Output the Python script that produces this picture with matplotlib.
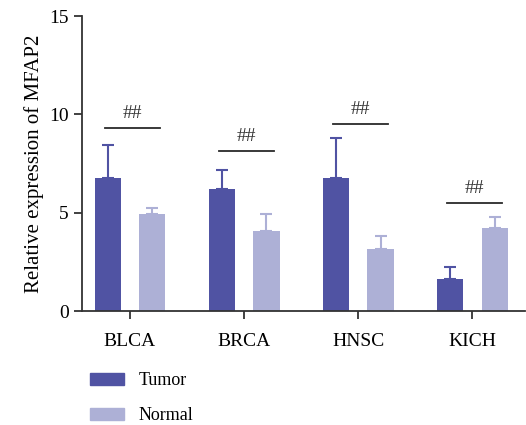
import matplotlib.pyplot as plt
import matplotlib.patches as mpatches
import numpy as np

plt.rcParams['font.family'] = ['Liberation Serif', 'DejaVu Serif']

cancers = ['BLCA', 'BRCA', 'HNSC', 'KICH']
tumor = [6.76, 6.2, 6.76, 1.63]
tumor_err = [1.68, 0.97, 2.04, 0.61]
normal = [4.93, 4.07, 3.15, 4.22]
normal_err = [0.31, 0.86, 0.66, 0.56]
sig_y = [9.3, 8.13, 9.5, 5.49]
sig_text = ['##', '##', '##', '##']

c_tumor = '#5053A3'
c_normal = '#ADB0D6'

fig = plt.figure(figsize=(5.26, 4.25), dpi=100)
ax = fig.add_axes([0.156, 0.268, 0.842, 0.694])

x = np.arange(len(cancers))
w = 0.23
off = 0.195

ax.bar(x - off, tumor, w, color=c_tumor, label='Tumor')
ax.bar(x + off, normal, w, color=c_normal, label='Normal')
ax.errorbar(x - off, tumor, yerr=[np.zeros(4), tumor_err], fmt='none',
            ecolor=c_tumor, elinewidth=1.5, capsize=4.5, capthick=1.5)
ax.errorbar(x + off, normal, yerr=[np.zeros(4), normal_err], fmt='none',
            ecolor=c_normal, elinewidth=1.5, capsize=4.5, capthick=1.5)

# significance marks
for i, yv in enumerate(sig_y):
    ax.plot([i - 0.22, i + 0.26], [yv, yv], color='#2a2a2a', lw=1.3)
    ax.text(i + 0.02, yv + 0.3, sig_text[i], ha='center', va='bottom',
            fontsize=14, color='#333333')

ax.set_xlim(-0.42, 3.46)
ax.set_ylim(0, 15)
ax.set_yticks([0, 5, 10, 15])
ax.set_xticks(x)
ax.set_xticklabels(cancers)
ax.set_ylabel('Relative expression of MFAP2', fontsize=15)
ax.tick_params(axis='both', labelsize=14, width=1.3, length=6, color='#333333')
ax.tick_params(axis='x', pad=10)
for s in ['top', 'right']:
    ax.spines[s].set_visible(False)
for s in ['left', 'bottom']:
    ax.spines[s].set_linewidth(1.3)
    ax.spines[s].set_color('#333333')

handles = [mpatches.Patch(color=c_tumor, label='Tumor'),
           mpatches.Patch(color=c_normal, label='Normal')]
fig.legend(handles=handles, loc='upper left', bbox_to_anchor=(0.14, 0.162),
           frameon=False, fontsize=13, handlelength=1.9, handleheight=0.65,
           handletextpad=0.8, labelspacing=1.0)

fig.savefig('out.png', dpi=100)
